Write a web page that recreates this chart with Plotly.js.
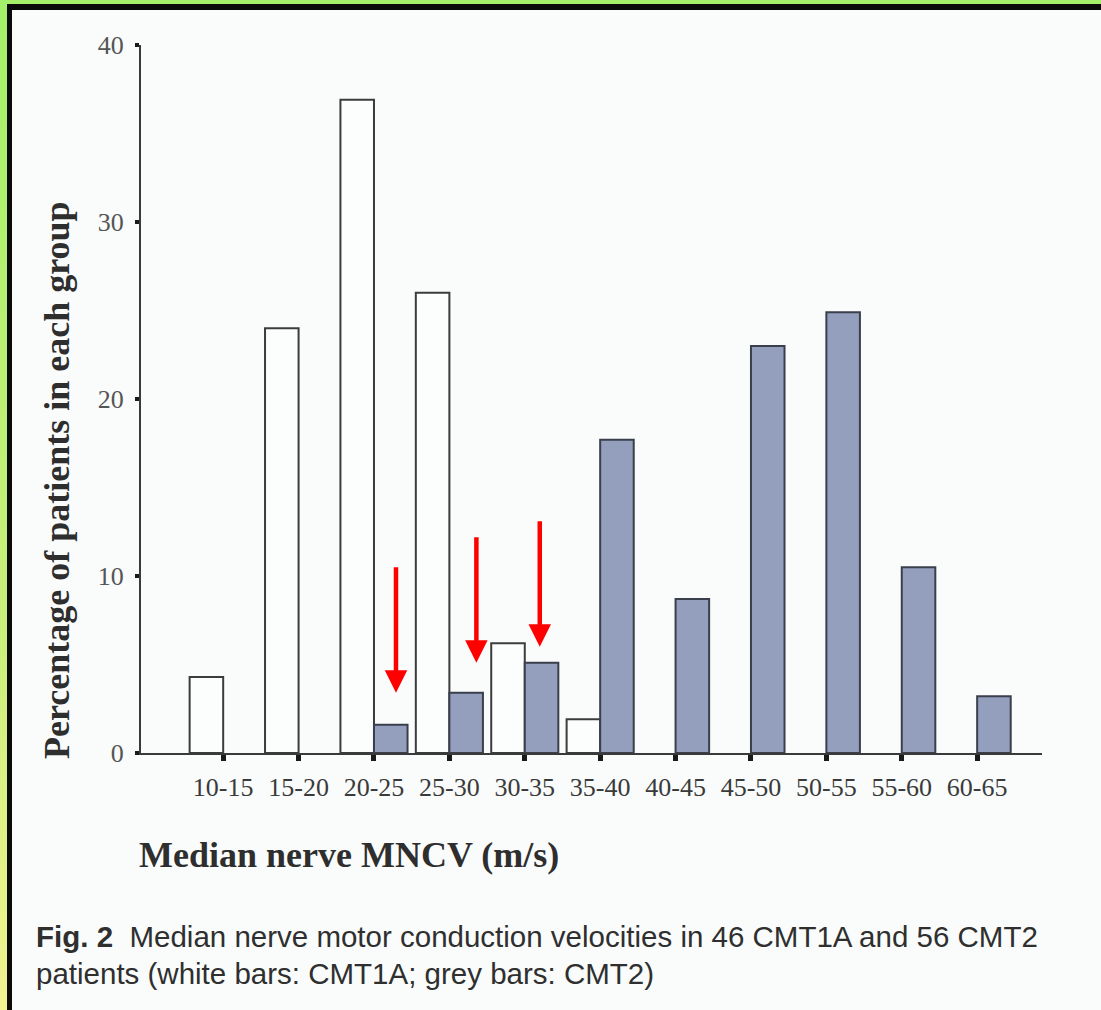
<!DOCTYPE html>
<html>
<head>
<meta charset="utf-8">
<script src="https://cdn.plot.ly/plotly-3.0.1.min.js"></script>
<style>
  html, body { margin: 0; padding: 0; width: 1101px; height: 1010px; overflow: hidden; background: #f9fcfb; }
  #chart { position: absolute; left: 0; top: 0; width: 1101px; height: 1010px; }
  .b { position: absolute; z-index: 5; }
</style>
</head>
<body>
<div id="chart"></div>
<div class="b" style="left:0;top:0;width:1101px;height:4px;background:#a4f06a;"></div>
<div class="b" style="left:0;top:0;width:7px;height:1010px;background:linear-gradient(#a4f06a,#c8f07a 60%,#f2f290);"></div>
<div class="b" style="left:7px;top:4px;width:1094px;height:6px;background:#0a0a0a;"></div>
<div class="b" style="left:7px;top:4px;width:5px;height:1006px;background:#0a0a0a;"></div>
<script>
// ---- data ----
const categories = ['10-15','15-20','20-25','25-30','30-35','35-40','40-45','45-50','50-55','55-60','60-65'];
const cmt1a = [4.3, 24.0, 36.9, 26.0, 6.2, 1.9, 0, 0, 0, 0, 0];       // white bars
const cmt2  = [0, 0, 1.6, 3.4, 5.1, 17.7, 8.7, 23.0, 24.9, 10.5, 3.2]; // grey bars
const yTicks = [0, 10, 20, 30, 40];
const arrowTargets = ['20-25', '25-30', '30-35'];
const arrowXShift = [22, 27, 15];
const arrowGap = [32, 30, 16];

const xTitle = 'Median nerve MNCV (m/s)';
const yTitle = 'Percentage of patients in each group';
const captionLine1 = '<b>Fig. 2</b>  Median nerve motor conduction velocities in 46 CMT1A and 56 CMT2';
const captionLine2 = 'patients (white bars: CMT1A; grey bars: CMT2)';

// no outline for empty bins (nothing is drawn there in the figure)
const outline = vals => vals.map(v => (v > 0 ? 2 : 0));

const traces = [
  { type: 'bar', name: 'CMT1A', x: categories, y: cmt1a,
    marker: { color: '#fcfdfd', line: { color: '#3c3c3c', width: outline(cmt1a) } }, hoverinfo: 'x+y' },
  { type: 'bar', name: 'CMT2', x: categories, y: cmt2,
    marker: { color: '#939fbd', line: { color: '#3a3f4c', width: outline(cmt2) } }, hoverinfo: 'x+y' }
];

const serif = 'Liberation Serif, Times New Roman, serif';
const sans = 'Liberation Sans, Arial, sans-serif';
const annotations = [
  { xref: 'paper', yref: 'paper', x: 0, y: 0, xanchor: 'left', yanchor: 'middle',
    xshift: -4, yshift: -102, showarrow: false, text: '<b>' + xTitle + '</b>',
    font: { family: serif, size: 36, color: '#2e2e2e' } },
  { xref: 'paper', yref: 'paper', x: 0, y: 0, xanchor: 'center', yanchor: 'middle',
    xshift: -84, yshift: 273, textangle: -90, showarrow: false, text: '<b>' + yTitle + '</b>',
    font: { family: serif, size: 36, color: '#2e2e2e' } },
  { xref: 'paper', yref: 'paper', x: 0, y: 0, xanchor: 'left', yanchor: 'middle',
    xshift: -107, yshift: -183, showarrow: false, text: captionLine1,
    font: { family: sans, size: 29.5, color: '#2f2f2f' } },
  { xref: 'paper', yref: 'paper', x: 0, y: 0, xanchor: 'left', yanchor: 'middle',
    xshift: -107, yshift: -220, showarrow: false, text: captionLine2,
    font: { family: sans, size: 29.5, color: '#2f2f2f' } }
];
arrowTargets.forEach((c, i) => {
  const idx = categories.indexOf(c);
  annotations.push({
    xref: 'x', yref: 'y', x: c, y: cmt2[idx], text: '', showarrow: true,
    xshift: arrowXShift[i], yshift: arrowGap[i],
    ax: 0, ay: -127, arrowhead: 2, arrowsize: 1.0, arrowwidth: 4.5, arrowcolor: '#ff0000', standoff: 0
  });
});

const layout = {
  width: 1101, height: 1010,
  margin: { l: 141, r: 59, t: 45, b: 257, pad: 0 },
  paper_bgcolor: 'rgba(0,0,0,0)', plot_bgcolor: 'rgba(0,0,0,0)',
  showlegend: false,
  barmode: 'group', bargap: 0.11, bargroupgap: 0,
  xaxis: {
    type: 'category', range: [-1.09, 10.86], showgrid: false, zeroline: false,
    showline: true, linecolor: '#3a3a3a', linewidth: 2,
    ticks: 'outside', ticklen: 6, tickwidth: 5, tickcolor: '#1a1a1a',
    tickfont: { family: serif, size: 26, color: '#3a3a3a' }, ticklabelstandoff: 4
  },
  yaxis: {
    range: [0, 40], tickvals: yTicks, showgrid: false, zeroline: false,
    showline: true, linecolor: '#3a3a3a', linewidth: 2,
    ticks: 'outside', ticklen: 4, tickwidth: 4, tickcolor: '#1a1a1a',
    tickfont: { family: serif, size: 26, color: '#555' }, ticklabelstandoff: 6
  },
  annotations: annotations
};

Plotly.newPlot('chart', traces, layout, { staticPlot: true });
</script>
</body>
</html>
